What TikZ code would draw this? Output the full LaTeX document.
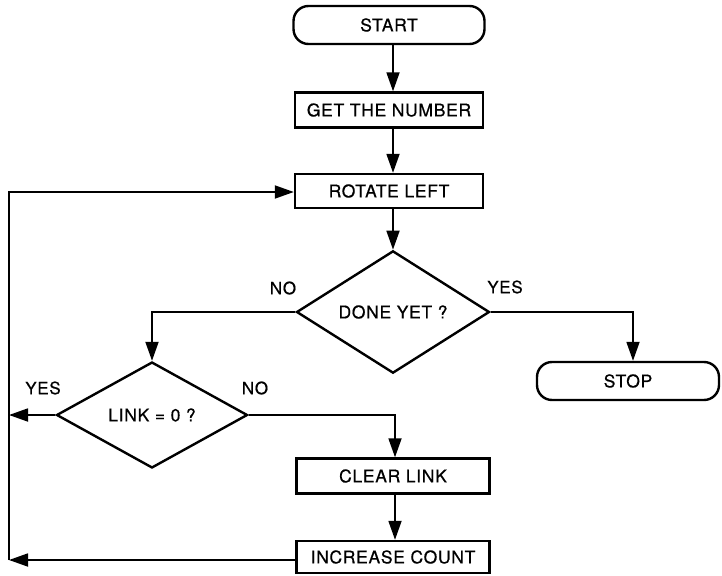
\documentclass[tikz,border=0pt]{standalone}
\usepackage{fontspec}
\setmainfont{TeX Gyre Heros}[LetterSpace=4,FakeBold=0.6]
\usetikzlibrary{arrows.meta,shapes.geometric}
\begin{document}
\begin{tikzpicture}[x=1pt,y=-1pt,
  lbl/.style={font=\fontsize{17}{19}\selectfont},
  txt/.style={font=\fontsize{17.5}{20}\selectfont},
  procbox/.style={draw, line width=2.4pt, txt, inner sep=0pt, minimum width=190pt, minimum height=35pt},
  termbox/.style={procbox, rounded corners=15pt, minimum height=38pt},
  decbox/.style={draw, line width=2.4pt, txt, shape=diamond, inner sep=0pt},
  arr/.style={line width=1.8pt, -{Triangle[length=19pt,width=13pt]}},
  ln/.style={line width=1.8pt}]
\useasboundingbox (0,0) rectangle (722,575);
\node[termbox, minimum width=191pt] (start) at (389,25) {START};
\node[procbox, minimum width=188pt] (get) at (389,110) {GET THE NUMBER};
\node[procbox, minimum width=188pt, minimum height=34pt] (rot) at (389,191) {ROTATE LEFT};
\node[decbox, minimum width=193pt, minimum height=110pt] (done) at (393,312) {DONE YET ?};
\node[termbox, minimum width=182pt] (stop) at (628,381) {STOP};
\node[decbox, minimum width=191pt, minimum height=106pt] (link) at (152,415) {LINK = 0 ?};
\node[procbox, minimum width=193pt] (clear) at (393,476) {CLEAR LINK};
\node[procbox, minimum width=193pt, minimum height=32pt] (inc) at (393,557) {INCREASE COUNT};
\coordinate (L) at (9,192);
\coordinate (Lb) at (9,560);
% main flow
\draw[arr] (start.south -| done.north) -- (get.north -| done.north);
\draw[arr] (get.south -| done.north) -- (rot.north -| done.north);
\draw[arr] (rot.south -| done.north) -- (done.north);
\draw[arr] (done.west) -| (link.north);
\draw[arr] (done.east) -| ([xshift=5pt]stop.north);
\draw[arr] (link.east) -| ([xshift=2pt]clear.north);
\draw[arr] ([xshift=2pt]clear.south) -- ([xshift=2pt]inc.north);
\draw[arr] (link.west) -- (link.west -| L);
\draw[arr] (inc.west |- Lb) -- (Lb);
\draw[arr] (Lb) -- (L) -- (rot.west |- L);
% labels
\node[lbl] at (283,288) {NO};
\node[lbl] at (505,287) {YES};
\node[lbl] at (43,388) {YES};
\node[lbl] at (255,388) {NO};
\end{tikzpicture}
\end{document}
